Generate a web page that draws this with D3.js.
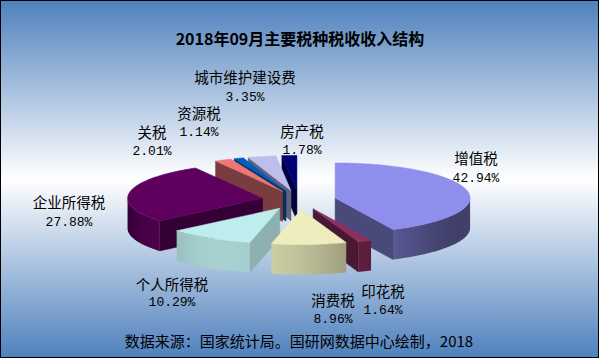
<!DOCTYPE html>
<html><head><meta charset="utf-8">
<script src="https://cdn.jsdelivr.net/npm/d3@7/dist/d3.min.js"></script>
<style>html,body{margin:0;padding:0;background:#fff}</style>
</head><body>
<svg id="c" width="601" height="360"></svg>
<script>
// ---- data ----
const categories = ["增值税","印花税","消费税","个人所得税","企业所得税","关税","资源税","城市维护建设费","房产税"];
const shares = [42.94, 1.64, 8.96, 10.29, 27.88, 2.01, 1.14, 3.35, 1.78];
const pctLabels = ["42.94%","1.64%","8.96%","10.29%","27.88%","2.01%","1.14%","3.35%","1.78%"];
const colors = ["#9999FF","#993366","#FFFFCC","#CCFFFF","#660066","#FF8080","#0066CC","#CCCCFF","#000080"];
const titleText = "2018年09月主要税种税收收入结构";
const sourceText = "数据来源：国家统计局。国研网数据中心绘制，2018";

// ---- layout ----
const W = 601, H = 360;
const cx = 299, cy = 200, R = 135, Ry = 35, thick = 30, explode = 37;
// label anchors: [centre x, name y, percent y]
const labelLayout = [[476,157,178],[383,290,310],[333,299,319],[172,283,302],[69,201,222],[152,131,151],[199,112,132],[245,76,97],[302,130,150]];

const svg = d3.select("#c");
const defs = svg.append("defs");
const bg = defs.append("linearGradient").attr("id","bg").attr("x1",0).attr("y1",0).attr("x2",0).attr("y2",1);
[[0,"#4f81bd"],[0.5,"#ffffff"],[1,"#4f81bd"]].forEach(([o,c])=>bg.append("stop").attr("offset",o).attr("stop-color",c));
svg.append("rect").attr("x",0.5).attr("y",0.5).attr("width",598).attr("height",357)
  .attr("fill","url(#bg)").attr("stroke","#000").attr("stroke-width",1);

const xs = d3.scaleLinear().domain([-1,1]).range([cx-R, cx+R]);
const zs = d3.scaleLinear().domain([-1,1]).range([cy+Ry, cy-Ry]);
const e = explode / R;
function proj(m, th, r, h){
  const x = e*Math.sin(m) + r*Math.sin(th);
  const z = e*Math.cos(m) + r*Math.cos(th);
  return [xs(x), zs(z) + h];
}
function shadeCol(c, s){
  const k = d3.rgb(c);
  return d3.rgb(k.r*s, k.g*s, k.b*s).formatHex();
}
const deg = Math.PI/180;
const sideShade = t => 0.42 + 0.4*Math.pow(Math.max(0, Math.cos(t - 205*deg)), 2);
const cutShade = n => 0.48 + 0.3*Math.pow(Math.max(0, Math.cos(n - 70*deg)), 2);
const line = d3.line();

const arcs = d3.pie().sort(null).value(d=>d).startAngle(0).endAngle(2*Math.PI)(shares);
const mid = a => (a.startAngle + a.endAngle)/2;
const order = arcs.map((a,i)=>i).sort((i,j)=>Math.cos(mid(arcs[j])) - Math.cos(mid(arcs[i])));

const pieG = svg.append("g");
function poly(g, pts, fill){
  g.append("path").attr("d", line(pts) + "Z").attr("fill", fill).attr("stroke", fill).attr("stroke-width",0.5).attr("stroke-linejoin","round");
}
order.forEach(i=>{
  const a = arcs[i], a0 = a.startAngle, a1 = a.endAngle, m = mid(a), c = colors[i];
  const g = pieG.append("g");
  const apexT = proj(m,0,0,0), apexB = proj(m,0,0,thick);
  if (Math.sin(a0) < 0) {
    poly(g, [apexT, proj(m,a0,1,0), proj(m,a0,1,thick), apexB], shadeCol(c, cutShade(a0 - Math.PI/2)));
  }
  if (Math.sin(a1) > 0) {
    poly(g, [apexT, proj(m,a1,1,0), proj(m,a1,1,thick), apexB], shadeCol(c, cutShade(a1 + Math.PI/2)));
  }
  const lo = Math.max(a0, Math.PI/2), hi = Math.min(a1, 1.5*Math.PI);
  if (lo < hi) {
    const n = Math.max(2, Math.ceil((hi-lo)/(1*deg)));
    const ts = d3.range(n+1).map(k => lo + (hi-lo)*k/n);
    const xLo = proj(m,lo,1,0)[0], xHi = proj(m,hi,1,0)[0];
    const gid = "side" + i;
    const gr = defs.append("linearGradient").attr("id",gid).attr("gradientUnits","userSpaceOnUse")
      .attr("x1",xLo).attr("y1",0).attr("x2",xHi).attr("y2",0);
    ts.forEach(t=>{
      const off = Math.abs(xHi-xLo) < 1e-6 ? 0 : (proj(m,t,1,0)[0]-xLo)/(xHi-xLo);
      gr.append("stop").attr("offset", Math.min(1,Math.max(0,off))).attr("stop-color", shadeCol(c, sideShade(t)));
    });
    const pts = ts.map(t=>proj(m,t,1,0)).concat(ts.slice().reverse().map(t=>proj(m,t,1,thick)));
    g.append("path").attr("d", line(pts)+"Z").attr("fill","url(#"+gid+")").attr("stroke","none");
  }
  const nTop = Math.max(2, Math.ceil((a1-a0)/(1*deg)));
  const top = [apexT];
  for (let k=0;k<=nTop;k++) top.push(proj(m, a0 + (a1-a0)*k/nTop, 1, 0));
  poly(g, top, shadeCol(c, 0.93));
});

// title
svg.append("text").attr("x",300).attr("y",38).attr("text-anchor","middle").attr("dominant-baseline","central")
  .attr("font-family","'Noto Sans CJK SC', sans-serif").attr("font-weight","bold").attr("font-size",16).attr("fill","#000").text(titleText);

// labels
const lg = svg.append("g");
categories.forEach((name,i)=>{
  const [lx, ny, py] = labelLayout[i];
  lg.append("text").attr("x",lx).attr("y",ny).attr("text-anchor","middle").attr("dominant-baseline","central")
    .attr("font-family","'Noto Sans CJK SC', sans-serif").attr("font-size",14.5).attr("fill","#000").text(name);
  lg.append("text").attr("x",lx).attr("y",py).attr("text-anchor","middle").attr("dominant-baseline","central")
    .attr("font-family","'Liberation Mono', monospace").attr("font-size",13).attr("fill","#000").text(pctLabels[i]);
});

// source
svg.append("text").attr("x",299).attr("y",340).attr("text-anchor","middle").attr("dominant-baseline","central")
  .attr("font-family","'Noto Sans CJK SC', sans-serif").attr("font-size",15).attr("fill","#000").text(sourceText);
</script>
</body></html>
